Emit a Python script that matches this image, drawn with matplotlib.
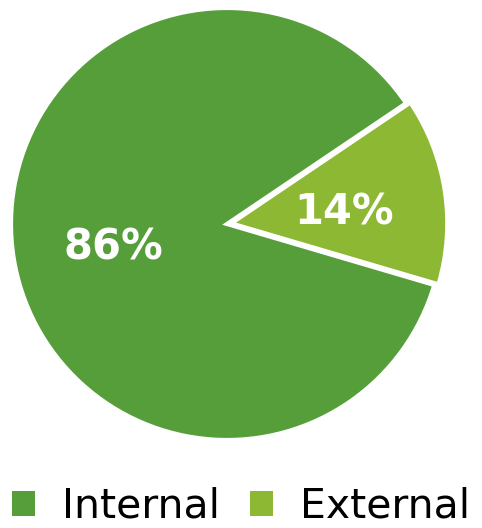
import matplotlib.pyplot as plt
from matplotlib.patches import Patch

# Data
labels = ["Internal", "External"]
shares = [86, 14]
colors = ["#559E3A", "#8DB833"]

plt.rcParams['font.family'] = ['DejaVu Sans']

W, H = 482, 528
fig = plt.figure(figsize=(W / 100, H / 100), dpi=100)

# pie centre / radius in pixels
cx, cy, r = 227, 224, 216
lim = 1.03
half = r * lim
ax = fig.add_axes([(cx - half) / W, (H - cy - half) / H, 2 * half / W, 2 * half / H])

wedges, texts, autotexts = ax.pie(
    shares, colors=colors, startangle=34, explode=[0, 0.02],
    autopct='%d%%', pctdistance=0.53,
    wedgeprops=dict(edgecolor='white', linewidth=3),
    textprops=dict(color='white', fontsize=30, fontweight='bold'))
for t in autotexts:
    x, y = t.get_position()
    t.set_position((x, y - 0.03))
ax.set_xlim(-lim, lim)
ax.set_ylim(-lim, lim)
ax.set_aspect('equal')

handles = [Patch(facecolor=c, edgecolor='none') for c in colors]
fs = 29.5
px = fs * 100 / 72
leg = fig.legend(handles, labels, loc='center left', bbox_to_anchor=(12 / W, 21 / H),
                 ncol=2, frameon=False, fontsize=fs, handlelength=23 / px,
                 handleheight=23 / px, handletextpad=27 / px, columnspacing=30 / px,
                 borderpad=0, borderaxespad=0)

fig.savefig('out.png', dpi=100, facecolor='white')
